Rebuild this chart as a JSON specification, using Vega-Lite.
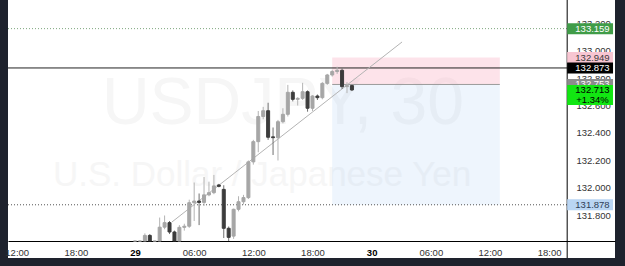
{
  "$schema": "https://vega.github.io/schema/vega-lite/v6.json",
  "width": 607,
  "height": 258,
  "autosize": {"type": "none"},
  "padding": {"left": 8, "top": 0, "right": 10, "bottom": 8},
  "background": "#1e222d",
  "config": {"view": {"stroke": null, "fill": "#ffffff"}, "font": "Liberation Sans", "axis": {"labelFont": "Liberation Sans"}},
  "resolve": {"scale": {"x": "shared", "y": "shared"}, "axis": {"x": "independent", "y": "independent"}},
  "datasets": {
    "candles": [
      {"t":"2023-03-29T00:00:00Z","o":131.40,"h":131.48,"l":131.36,"c":131.45},
      {"t":"2023-03-29T00:30:00Z","o":131.45,"h":131.56,"l":131.43,"c":131.53},
      {"t":"2023-03-29T01:00:00Z","o":131.53,"h":131.67,"l":131.50,"c":131.655},
      {"t":"2023-03-29T01:30:00Z","o":131.655,"h":131.665,"l":131.55,"c":131.58},
      {"t":"2023-03-29T02:00:00Z","o":131.58,"h":131.61,"l":131.54,"c":131.59},
      {"t":"2023-03-29T02:30:00Z","o":131.59,"h":131.785,"l":131.57,"c":131.715},
      {"t":"2023-03-29T03:00:00Z","o":131.715,"h":131.80,"l":131.70,"c":131.748},
      {"t":"2023-03-29T03:30:00Z","o":131.748,"h":131.76,"l":131.665,"c":131.68},
      {"t":"2023-03-29T04:00:00Z","o":131.68,"h":131.69,"l":131.57,"c":131.60},
      {"t":"2023-03-29T04:30:00Z","o":131.60,"h":131.73,"l":131.59,"c":131.714},
      {"t":"2023-03-29T05:00:00Z","o":131.714,"h":131.74,"l":131.69,"c":131.722},
      {"t":"2023-03-29T05:30:00Z","o":131.722,"h":131.915,"l":131.71,"c":131.893},
      {"t":"2023-03-29T06:00:00Z","o":131.893,"h":132.04,"l":131.76,"c":131.905},
      {"t":"2023-03-29T06:30:00Z","o":131.905,"h":131.96,"l":131.73,"c":131.895},
      {"t":"2023-03-29T07:00:00Z","o":131.895,"h":132.08,"l":131.87,"c":131.95},
      {"t":"2023-03-29T07:30:00Z","o":131.95,"h":132.046,"l":131.94,"c":131.966},
      {"t":"2023-03-29T08:00:00Z","o":131.966,"h":132.095,"l":131.955,"c":132.015},
      {"t":"2023-03-29T08:30:00Z","o":132.022,"h":132.03,"l":132.005,"c":132.012},
      {"t":"2023-03-29T09:00:00Z","o":131.99,"h":132.02,"l":131.636,"c":131.707},
      {"t":"2023-03-29T09:30:00Z","o":131.707,"h":131.72,"l":131.60,"c":131.641},
      {"t":"2023-03-29T10:00:00Z","o":131.65,"h":131.85,"l":131.63,"c":131.845},
      {"t":"2023-03-29T10:30:00Z","o":131.845,"h":131.94,"l":131.83,"c":131.90},
      {"t":"2023-03-29T11:00:00Z","o":131.90,"h":131.95,"l":131.88,"c":131.93},
      {"t":"2023-03-29T11:30:00Z","o":131.93,"h":132.20,"l":131.92,"c":132.19},
      {"t":"2023-03-29T12:00:00Z","o":132.19,"h":132.35,"l":132.17,"c":132.337},
      {"t":"2023-03-29T12:30:00Z","o":132.337,"h":132.56,"l":132.26,"c":132.52},
      {"t":"2023-03-29T13:00:00Z","o":132.52,"h":132.59,"l":132.50,"c":132.562},
      {"t":"2023-03-29T13:30:00Z","o":132.562,"h":132.62,"l":132.35,"c":132.369},
      {"t":"2023-03-29T14:00:00Z","o":132.372,"h":132.44,"l":132.24,"c":132.366},
      {"t":"2023-03-29T14:30:00Z","o":132.366,"h":132.495,"l":132.20,"c":132.482},
      {"t":"2023-03-29T15:00:00Z","o":132.482,"h":132.58,"l":132.47,"c":132.536},
      {"t":"2023-03-29T15:30:00Z","o":132.536,"h":132.75,"l":132.52,"c":132.696},
      {"t":"2023-03-29T16:00:00Z","o":132.696,"h":132.71,"l":132.63,"c":132.645},
      {"t":"2023-03-29T16:30:00Z","o":132.645,"h":132.66,"l":132.60,"c":132.652},
      {"t":"2023-03-29T17:00:00Z","o":132.652,"h":132.765,"l":132.64,"c":132.70},
      {"t":"2023-03-29T17:30:00Z","o":132.70,"h":132.71,"l":132.555,"c":132.58},
      {"t":"2023-03-29T18:00:00Z","o":132.58,"h":132.675,"l":132.56,"c":132.669},
      {"t":"2023-03-29T18:30:00Z","o":132.669,"h":132.68,"l":132.64,"c":132.657},
      {"t":"2023-03-29T19:00:00Z","o":132.657,"h":132.77,"l":132.645,"c":132.761},
      {"t":"2023-03-29T19:30:00Z","o":132.761,"h":132.83,"l":132.75,"c":132.822},
      {"t":"2023-03-29T20:00:00Z","o":132.822,"h":132.86,"l":132.81,"c":132.847},
      {"t":"2023-03-29T20:30:00Z","o":132.847,"h":132.882,"l":132.83,"c":132.856},
      {"t":"2023-03-29T21:00:00Z","o":132.856,"h":132.87,"l":132.72,"c":132.737},
      {"t":"2023-03-29T21:30:00Z","o":132.737,"h":132.77,"l":132.69,"c":132.745},
      {"t":"2023-03-29T22:00:00Z","o":132.745,"h":132.75,"l":132.705,"c":132.713}
    ],
    "labels": [
      {"p":133.159,"kind":"alert","label":"133.159"},
      {"p":132.949,"kind":"target","label":"132.949"},
      {"p":132.873,"kind":"line","label":"132.873"},
      {"p":132.753,"kind":"entry","label":"132.753"},
      {"p":131.878,"kind":"stop","label":"131.878"}
    ],
    "last": [{"p":132.713,"label":"132.713","sub":"+1.34%"}]
  },
  "layer": [
    {
      "data": {"values": [{"t":"2023-03-29T15:00:00Z","p":132.465,"label":"USDJPY, 30"}]},
      "mark": {"type":"text","fontSize":66,"color":"#f6f6f6","align":"center","baseline":"alphabetic"},
      "encoding": {
        "x": {"field":"t","type":"temporal","title":null,
          "scale":{"type":"utc","domain":[{"year":2023,"month":3,"date":28,"hours":11,"minutes":7,"utc":true},{"year":2023,"month":3,"date":31,"hours":0,"minutes":41,"utc":true}],"nice":false,"padding":0},
          "axis": {"orient":"bottom","offset":-17,"title":null,"grid":false,"ticks":false,"tickSize":0,"domain":true,"domainColor":"#000000","domainWidth":1,
            "values":[
              {"year":2023,"month":3,"date":28,"hours":12,"utc":true},
              {"year":2023,"month":3,"date":28,"hours":18,"utc":true},
              {"year":2023,"month":3,"date":29,"hours":0,"utc":true},
              {"year":2023,"month":3,"date":29,"hours":6,"utc":true},
              {"year":2023,"month":3,"date":29,"hours":12,"utc":true},
              {"year":2023,"month":3,"date":29,"hours":18,"utc":true},
              {"year":2023,"month":3,"date":30,"hours":0,"utc":true},
              {"year":2023,"month":3,"date":30,"hours":6,"utc":true},
              {"year":2023,"month":3,"date":30,"hours":12,"utc":true},
              {"year":2023,"month":3,"date":30,"hours":18,"utc":true}
            ],
            "labelExpr":"utchours(datum.value) == 0 ? utcFormat(datum.value, '%d') : utcFormat(datum.value, '%H:%M')",
            "labelFontSize":9.5,"labelPadding":6,"labelOverlap":false,"labelFlush":false,"labelBound":false,
            "labelColor":{"condition":{"test":"utchours(datum.value) == 0","value":"#000000"},"value":"#333333"},
            "labelFontWeight":{"condition":{"test":"utchours(datum.value) == 0","value":"bold"},"value":"normal"}
          }
        },
        "y": {"field":"p","type":"quantitative","title":null,
          "scale":{"domain":[131.6145,133.3673],"range":[241,0],"clamp":true,"zero":false,"nice":false},
          "axis": {"orient":"right","offset":-48,"title":null,"grid":false,"ticks":false,"tickSize":0,"domain":false,
            "values":[131.8,132.0,132.2,132.4,132.6,132.8,133.0,133.2],
            "format":".3f","labelFontSize":9.5,"labelPadding":9,"labelColor":"#333333","labelOverlap":false,"labelFlush":false,"labelBound":false,"labelAlign":"left","labelBaseline":"middle"
          }
        },
        "text": {"field":"label"}
      }
    },
    {
      "data": {"values": [{"t":"2023-03-29T12:53:00Z","p":132.0145,"label":"U.S. Dollar / Japanese Yen"}]},
      "mark": {"type":"text","fontSize":35,"color":"#f6f6f6","align":"center","baseline":"alphabetic"},
      "encoding": {
        "x": {"field":"t","type":"temporal","axis":null},
        "y": {"field":"p","type":"quantitative","axis":null},
        "text": {"field":"label"}
      }
    },
    {
      "data": {"values": [{"t":"2023-03-29T20:00:00Z","t2":"2023-03-30T13:00:00Z","p":132.753,"p2":132.949}]},
      "mark": {"type":"rect","color":"#f7a1b8","opacity":0.3},
      "encoding": {
        "x": {"field":"t","type":"temporal","axis":null},
        "x2": {"field":"t2"},
        "y": {"field":"p","type":"quantitative","axis":null},
        "y2": {"field":"p2"}
      }
    },
    {
      "data": {"values": [{"t":"2023-03-29T20:00:00Z","t2":"2023-03-30T13:00:00Z","p":131.878,"p2":132.753}]},
      "mark": {"type":"rect","color":"#8fbff0","opacity":0.15},
      "encoding": {
        "x": {"field":"t","type":"temporal","axis":null},
        "x2": {"field":"t2"},
        "y": {"field":"p","type":"quantitative","axis":null},
        "y2": {"field":"p2"}
      }
    },
    {
      "data": {"values": [{"t":"2023-03-28T11:07:00Z","t2":"2023-03-30T19:50:00Z","p":133.159}]},
      "mark": {"type":"rule","color":"#7da67d","strokeDash":[1,2],"strokeWidth":1},
      "encoding": {
        "x": {"field":"t","type":"temporal","axis":null},
        "x2": {"field":"t2"},
        "y": {"field":"p","type":"quantitative","axis":null}
      }
    },
    {
      "data": {"values": [{"t":"2023-03-28T11:07:00Z","t2":"2023-03-30T19:50:00Z","p":131.878}]},
      "mark": {"type":"rule","color":"#555555","strokeDash":[1,2],"strokeWidth":1},
      "encoding": {
        "x": {"field":"t","type":"temporal","axis":null},
        "x2": {"field":"t2"},
        "y": {"field":"p","type":"quantitative","axis":null}
      }
    },
    {
      "data": {"values": [{"t":"2023-03-28T11:07:00Z","t2":"2023-03-30T19:50:00Z","p":132.873}]},
      "mark": {"type":"rule","color":"#222222","strokeWidth":1},
      "encoding": {
        "x": {"field":"t","type":"temporal","axis":null},
        "x2": {"field":"t2"},
        "y": {"field":"p","type":"quantitative","axis":null}
      }
    },
    {
      "data": {"values": [{"t":"2023-03-29T20:00:00Z","t2":"2023-03-30T13:00:00Z","p":132.753}]},
      "mark": {"type":"rule","color":"#9a9a9a","strokeWidth":1},
      "encoding": {
        "x": {"field":"t","type":"temporal","axis":null},
        "x2": {"field":"t2"},
        "y": {"field":"p","type":"quantitative","axis":null}
      }
    },
    {
      "data": {"values": [{"t":"2023-03-29T03:45:00Z","p":131.753,"t2":"2023-03-30T03:05:00Z","p2":133.062}]},
      "mark": {"type":"rule","color":"#b4b4b4","strokeWidth":1},
      "encoding": {
        "x": {"field":"t","type":"temporal","axis":null},
        "x2": {"field":"t2"},
        "y": {"field":"p","type":"quantitative","axis":null},
        "y2": {"field":"p2"}
      }
    },
    {
      "data": {"name": "candles"},
      "mark": {"type":"rule","strokeWidth":1},
      "encoding": {
        "x": {"field":"t","type":"temporal","axis":null},
        "y": {"field":"l","type":"quantitative","axis":null},
        "y2": {"field":"h"},
        "color": {"condition":{"test":"datum.c >= datum.o","value":"#b3b3b3"},"value":"#707070"}
      }
    },
    {
      "data": {"name": "candles"},
      "mark": {"type":"bar","size":3,"strokeWidth":1},
      "encoding": {
        "x": {"field":"t","type":"temporal","axis":null},
        "y": {"field":"o","type":"quantitative","axis":null},
        "y2": {"field":"c"},
        "fill": {"condition":{"test":"datum.c >= datum.o","value":"#a6a6a6"},"value":"#3c3c3c"},
        "stroke": {"condition":{"test":"datum.c >= datum.o","value":"#a6a6a6"},"value":"#3c3c3c"}
      }
    },
    {
      "data": {"values": [{}]},
      "mark": {"type":"rule","color":"#000000","strokeWidth":1},
      "encoding": {
        "x": {"datum":{"year":2023,"month":3,"date":30,"hours":19,"minutes":50,"utc":true},"type":"temporal","axis":null}
      }
    },
    {
      "data": {"name": "labels"},
      "mark": {"type":"rect","yOffset":-5.5,"y2Offset":5.5},
      "encoding": {
        "x": {"datum":{"year":2023,"month":3,"date":30,"hours":19,"minutes":50,"utc":true},"type":"temporal","axis":null},
        "x2": {"datum":{"year":2023,"month":3,"date":31,"hours":0,"minutes":29,"utc":true}},
        "y": {"field":"p","type":"quantitative","axis":null},
        "y2": {"field":"p"},
        "fill": {"field":"kind","type":"nominal","legend":null,
          "scale":{"domain":["alert","target","line","entry","stop"],"range":["#409c48","#f8c6d2","#000000","#8b8b8b","#b9d5f3"]}}
      }
    },
    {
      "data": {"name": "labels"},
      "mark": {"type":"text","fontSize":9.5,"align":"center","baseline":"middle"},
      "encoding": {
        "x": {"datum":{"year":2023,"month":3,"date":30,"hours":22,"minutes":24,"utc":true},"type":"temporal","axis":null},
        "y": {"field":"p","type":"quantitative","axis":null},
        "text": {"field":"label"},
        "color": {"field":"kind","type":"nominal","legend":null,
          "scale":{"domain":["alert","target","line","entry","stop"],"range":["#ffffff","#3a3a3a","#ffffff","#ffffff","#2f3d55"]}}
      }
    },
    {
      "data": {"name": "last"},
      "mark": {"type":"rect","yOffset":-5,"y2Offset":15,"color":"#12e612"},
      "encoding": {
        "x": {"datum":{"year":2023,"month":3,"date":30,"hours":19,"minutes":50,"utc":true},"type":"temporal","axis":null},
        "x2": {"datum":{"year":2023,"month":3,"date":31,"hours":0,"minutes":29,"utc":true}},
        "y": {"field":"p","type":"quantitative","axis":null},
        "y2": {"field":"p"}
      }
    },
    {
      "data": {"name": "last"},
      "mark": {"type":"text","fontSize":9.5,"align":"center","baseline":"middle","color":"#000000"},
      "encoding": {
        "x": {"datum":{"year":2023,"month":3,"date":30,"hours":22,"minutes":24,"utc":true},"type":"temporal","axis":null},
        "y": {"field":"p","type":"quantitative","axis":null},
        "text": {"field":"label"}
      }
    },
    {
      "data": {"name": "last"},
      "mark": {"type":"text","fontSize":9.5,"align":"center","baseline":"middle","color":"#000000","dy":10},
      "encoding": {
        "x": {"datum":{"year":2023,"month":3,"date":30,"hours":22,"minutes":24,"utc":true},"type":"temporal","axis":null},
        "y": {"field":"p","type":"quantitative","axis":null},
        "text": {"field":"sub"}
      }
    }
  ]
}
